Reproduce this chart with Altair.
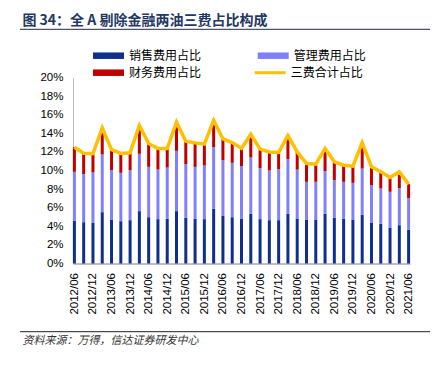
import altair as alt
import pandas as pd

quarters = [
    "2012/06", "2012/09", "2012/12", "2013/03", "2013/06", "2013/09", "2013/12",
    "2014/03", "2014/06", "2014/09", "2014/12", "2015/03", "2015/06", "2015/09",
    "2015/12", "2016/03", "2016/06", "2016/09", "2016/12", "2017/03", "2017/06",
    "2017/09", "2017/12", "2018/03", "2018/06", "2018/09", "2018/12", "2019/03",
    "2019/06", "2019/09", "2019/12", "2020/03", "2020/06", "2020/09", "2020/12",
    "2021/03", "2021/06",
]
sales = [4.59, 4.44, 4.41, 5.52, 4.73, 4.55, 4.66, 5.63, 4.98, 4.77, 4.80, 5.63, 4.91,
         4.80, 4.77, 5.88, 5.16, 4.98, 4.80, 5.34, 4.77, 4.66, 4.66, 5.34, 4.84, 4.73,
         4.73, 5.34, 4.91, 4.80, 4.73, 5.23, 4.41, 4.27, 3.87, 4.12, 3.62]
admin = [5.27, 5.17, 5.37, 6.20, 5.31, 5.20, 5.38, 6.16, 5.41, 5.33, 5.52, 6.48, 5.77,
         5.59, 5.77, 6.62, 5.94, 5.84, 5.67, 6.06, 5.48, 5.34, 5.48, 5.88, 5.26, 4.05,
         4.05, 4.59, 4.05, 3.98, 3.94, 4.98, 4.01, 3.79, 3.84, 3.98, 3.41]
finance = [2.64, 2.24, 2.02, 2.88, 2.21, 2.08, 1.86, 3.06, 2.51, 2.27, 2.05, 3.09, 2.47,
           2.58, 2.29, 2.90, 2.30, 2.18, 1.90, 2.50, 2.05, 2.00, 1.80, 2.54, 1.90, 1.97,
           1.90, 2.44, 1.97, 1.79, 1.80, 2.79, 1.97, 1.80, 1.54, 1.76, 1.50]
total = [12.50, 11.85, 11.80, 14.60, 12.25, 11.83, 11.90, 14.85, 12.90, 12.37, 12.37,
         15.20, 13.15, 12.97, 12.83, 15.40, 13.40, 13.00, 12.37, 13.90, 12.30, 12.00,
         11.94, 13.76, 12.00, 10.75, 10.68, 12.37, 10.93, 10.57, 10.47, 13.00, 10.39,
         9.86, 9.25, 9.86, 8.53]

x_labels = ["2012/06", "2012/12", "2013/06", "2013/12", "2014/06", "2014/12", "2015/06",
            "2015/12", "2016/06", "2016/12", "2017/06", "2017/12", "2018/06", "2018/12",
            "2019/06", "2019/12", "2020/06", "2020/12", "2021/06"]
y_ticks = [0, 2, 4, 6, 8, 10, 12, 14, 16, 18, 20]

series_names = ["销售费用占比", "管理费用占比", "财务费用占比"]
series_colors = ["#0f2f8c", "#8080ff", "#c00000"]
line_name = "三费合计占比"
line_color = "#ffc000"
title_text = "图 34：全 A 剔除金融两油三费占比构成"
source_text = "资料来源：万得，信达证券研发中心"

rows = []
for i, q in enumerate(quarters):
    for k, (name, vals) in enumerate(zip(series_names, [sales, admin, finance])):
        rows.append({"q": q, "s": name, "v": vals[i], "k": k})
bar_df = pd.DataFrame(rows)
line_df = pd.DataFrame({"q": quarters, "t": total, "n": [line_name] * len(quarters)})

W, H = 337, 186
LX, LY = 19, -27.8

x_enc = alt.X(
    "q:N", sort=quarters, scale=alt.Scale(type="point", padding=0.15),
    axis=alt.Axis(values=x_labels, labelAngle=270, ticks=False, labelPadding=9,
                  domainColor="#808080", labelFont="Liberation Sans", labelFontSize=11.5,
                  labelColor="#000000", title=None, grid=False, labelOverlap=False),
)

y_scale = alt.Scale(domain=[0, 20], nice=False)
y_axis = alt.Axis(values=y_ticks, labelExpr="datum.value + '%'", ticks=False,
                  labelPadding=10, domainColor="#bfbfbf", grid=False, title=None,
                  labelFont="Liberation Sans", labelFontSize=11.5,
                  labelColor="#000000", labelOverlap=False, labelFlush=False)

bars = alt.Chart(bar_df).mark_bar(size=3).encode(
    x=x_enc,
    y=alt.Y("v:Q", stack="zero", scale=y_scale, axis=y_axis),
    color=alt.Color("s:N", scale=alt.Scale(domain=series_names, range=series_colors),
                    legend=alt.Legend(orient="none", legendX=LX, legendY=LY, columns=2,
                                      direction="horizontal",
                                      columnPadding=54.7, rowPadding=5,
                                      symbolType="M-1,-0.65H5.2V0.65H-1Z", symbolSize=100,
                                      symbolStrokeWidth=0, labelFont="Noto Sans CJK SC",
                                      labelFontSize=12, labelColor="#000000", title=None,
                                      labelOffset=25)),
    order=alt.Order("k:Q"),
)

line = alt.Chart(line_df).mark_line(strokeWidth=3.5).encode(
    x=x_enc,
    y=alt.Y("t:Q", scale=y_scale, axis=y_axis),
    color=alt.Color("n:N", scale=alt.Scale(domain=[line_name], range=[line_color]),
                    legend=alt.Legend(orient="none", legendX=LX + 161.7, legendY=LY + 17,
                                      symbolType="M-1,-0.3H5.2V0.3H-1Z", symbolSize=100,
                                      symbolFillColor=line_color, symbolStrokeWidth=0,
                                      labelFont="Noto Sans CJK SC",
                                      labelFontSize=12, labelColor="#000000", title=None,
                                      labelOffset=25)),
)

title = alt.Chart(pd.DataFrame({"t": [title_text]})).mark_text(
    align="left", baseline="middle", font="Noto Sans CJK SC", fontSize=14,
    fontWeight="bold", color="#1f3864",
).encode(x=alt.value(-50.6), y=alt.value(-56.8), text="t:N")

title_rule = alt.Chart(pd.DataFrame({"a": [0]})).mark_rule(color="#1f2a44", strokeWidth=1).encode(
    x=alt.value(-53), x2=alt.value(357), y=alt.value(-48.2))

foot_rule = alt.Chart(pd.DataFrame({"a": [0]})).mark_rule(color="#202020", strokeWidth=1).encode(
    x=alt.value(-53), x2=alt.value(357), y=alt.value(254.2))

footer = alt.Chart(pd.DataFrame({"t": [source_text]})).mark_text(
    align="left", baseline="middle", font="Noto Sans CJK SC", fontSize=11,
    fontStyle="italic", color="#333333",
).encode(x=alt.value(-50.6), y=alt.value(263.5), text="t:N")

chart = alt.layer(bars, line, title, title_rule, foot_rule, footer).resolve_scale(
    color="independent"
).resolve_legend(color="independent").properties(
    width=W, height=H,
    autosize=alt.AutoSizeParams(type="none"),
    padding={"left": 65, "top": 69.5, "right": 22, "bottom": 94},
).configure_view(stroke=None).configure_axis(labelOverlap=False)

chart.save("out.html", embed_options={"renderer": "svg", "actions": False})
